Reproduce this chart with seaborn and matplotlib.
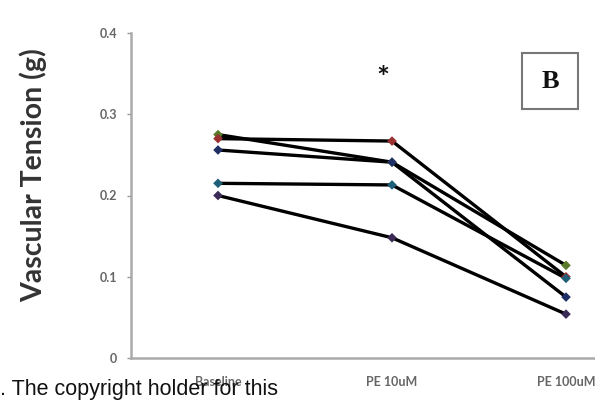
import matplotlib
matplotlib.use("Agg")
import matplotlib.pyplot as plt
import matplotlib.patches as mpatches
import seaborn as sns
import pandas as pd

categories = ["Baseline", "PE 10uM", "PE 100uM"]
s_green = [0.275, 0.241, 0.114]
s_red = [0.270, 0.267, 0.100]
s_navy = [0.256, 0.241, 0.075]
s_teal = [0.215, 0.213, 0.098]
s_purple = [0.200, 0.148, 0.054]
series_names = ["green", "red", "navy", "teal", "purple"]
marker_colors = ["#5a7a2a", "#9b3030", "#1f2f66", "#1f5f78", "#3a2a55"]
y_ticks = [0, 0.1, 0.2, 0.3, 0.4]
y_tick_labels = ["0", "0.1", "0.2", "0.3", "0.4"]

rows = []
for name, vals in zip(series_names, [s_green, s_red, s_navy, s_teal, s_purple]):
    for c, v in zip(categories, vals):
        rows.append({"subject": name, "condition": c, "value": v})
df = pd.DataFrame(rows)

sns.set_theme(style="white")
plt.rcParams["font.family"] = ["Lato", "DejaVu Sans"]

fig = plt.figure(figsize=(5.95, 4.03), dpi=100)
ax = fig.add_axes([131/595, 45/403, 522/595, 325/403])

sns.lineplot(data=df, x="condition", y="value", units="subject", estimator=None,
             color="black", lw=2.4, sort=False, ax=ax, legend=False)
sns.scatterplot(data=df, x="condition", y="value", hue="subject",
                palette=dict(zip(series_names, marker_colors)), marker="D",
                s=24, edgecolor="none", ax=ax, legend=False, zorder=5)

ax.set_xlim(-0.5, 2.5)
ax.set_ylim(0, 0.4)
ax.set_xlabel("")
ax.set_ylabel("Vascular Tension (g)", fontsize=20.5, fontweight="bold", color="#333333")
ax.yaxis.set_label_coords((47 - 131) / 522, (358 - 175) / 325)
ax.set_yticks(y_ticks)
ax.set_yticklabels(y_tick_labels, fontsize=9, color="#666666", fontweight="bold")
ax.set_xticks([0, 1, 2])
ax.set_xticklabels(categories, fontsize=9, color="#666666", fontweight="bold")
ax.set_xticks([0.5, 1.5], minor=True)
ax.tick_params(axis="x", which="major", length=0, pad=13)
ax.tick_params(axis="x", which="minor", length=3, color="#999999", width=1)
ax.tick_params(axis="y", length=3, color="#999999", width=1, left=True, pad=7)
for sp in ["top", "right"]:
    ax.spines[sp].set_visible(False)
for sp in ["left", "bottom"]:
    ax.spines[sp].set_color("#aaaaaa")
    ax.spines[sp].set_linewidth(1.8)

ax.text(0.95, 0.343, "*", fontsize=22, fontweight="bold", ha="center", va="center", color="#111111")

fig.patches.append(mpatches.Rectangle((522/595, (403-109)/403), 56/595, 56/403,
                                      transform=fig.transFigure, fill=False,
                                      edgecolor="#777777", lw=1.5))
fig.text(550/595, (403-81)/403, "B", fontsize=19, fontweight="bold",
         family=["Liberation Serif", "DejaVu Serif"], ha="center", va="center", color="#111111")

fig.text(0/595, (403-395)/403, ". The copyright holder for this", fontsize=15.5,
         family=["Liberation Sans", "DejaVu Sans"], ha="left", va="baseline", color="#111111",
         zorder=10)

fig.savefig("out.png", dpi=100)
